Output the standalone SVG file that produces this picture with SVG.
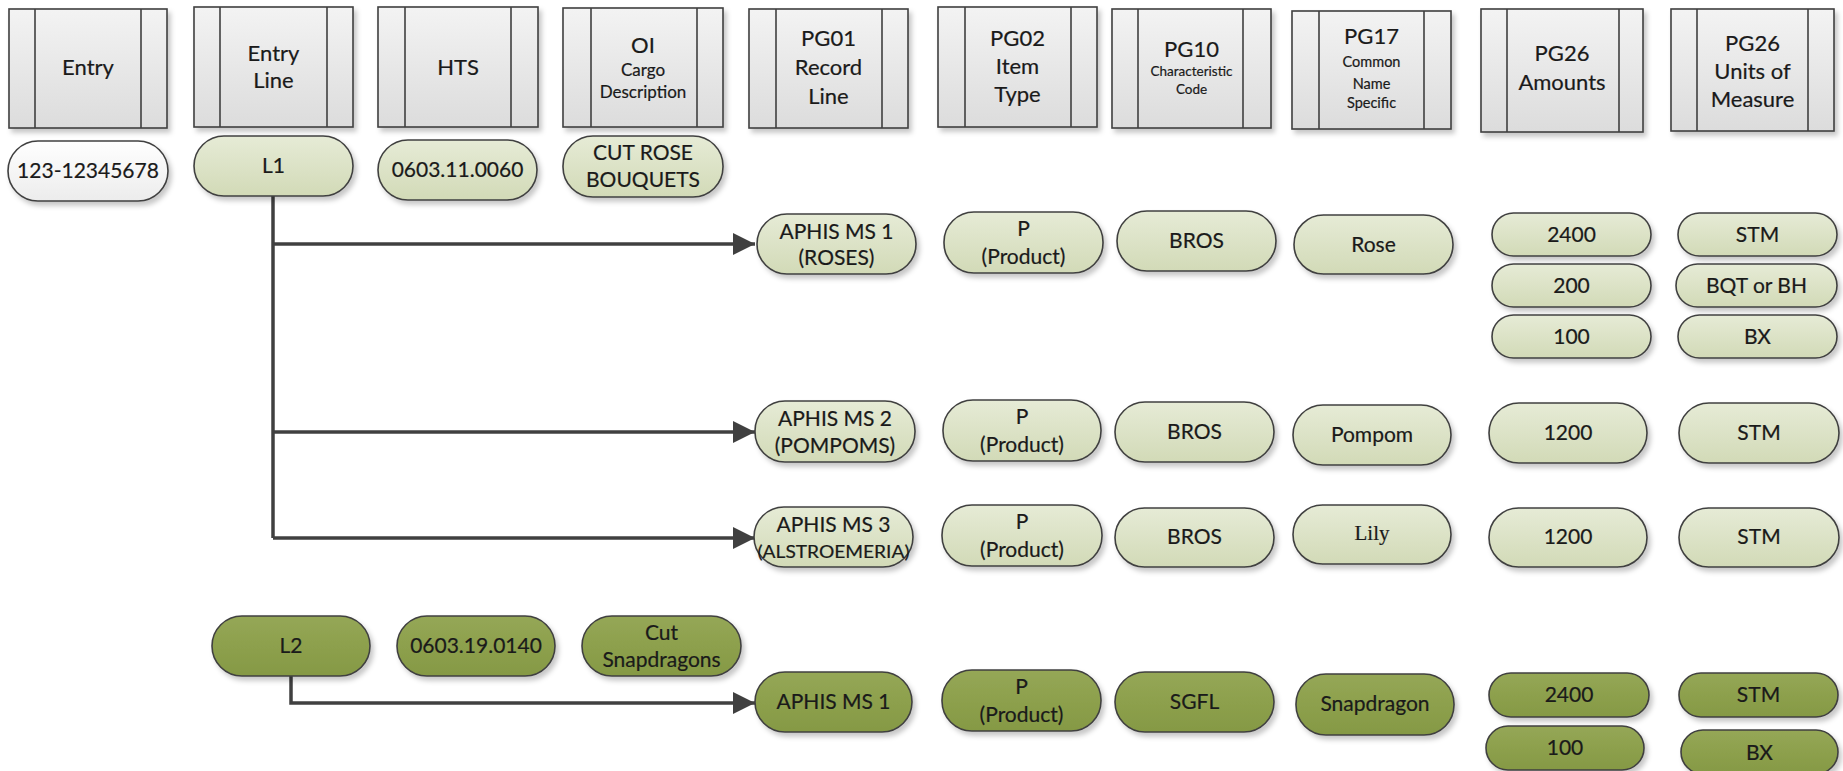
<svg xmlns="http://www.w3.org/2000/svg" width="1843" height="771" viewBox="0 0 1843 771">
<defs>
<linearGradient id="gH" x1="0" y1="0" x2="0" y2="1"><stop offset="0" stop-color="#f3f3f3"/><stop offset="1" stop-color="#dcdcdc"/></linearGradient>
<linearGradient id="gL" x1="0" y1="0" x2="0" y2="1"><stop offset="0" stop-color="#e6ebd6"/><stop offset="1" stop-color="#d2dab7"/></linearGradient>
<linearGradient id="gD" x1="0" y1="0" x2="0" y2="1"><stop offset="0" stop-color="#95a756"/><stop offset="1" stop-color="#859944"/></linearGradient>
<linearGradient id="gW" x1="0" y1="0" x2="0" y2="1"><stop offset="0" stop-color="#ffffff"/><stop offset="1" stop-color="#ececec"/></linearGradient>
<filter id="sh" x="-10%" y="-10%" width="130%" height="140%"><feDropShadow dx="3" dy="4" stdDeviation="2.5" flood-color="#000" flood-opacity="0.22"/></filter>
<marker id="arr" markerUnits="userSpaceOnUse" markerWidth="24" markerHeight="22" refX="22" refY="11" orient="auto"><path d="M0,0 L22,11 L0,22 z" fill="#404040"/></marker>
<style>
.hb{fill:url(#gH);stroke:#404040;stroke-width:1.6;filter:url(#sh)}
.hl{fill:none;stroke:#404040;stroke-width:1.6}
.lg{fill:url(#gL);stroke:#404040;stroke-width:1.6;filter:url(#sh)}
.dg{fill:url(#gD);stroke:#404040;stroke-width:1.6;filter:url(#sh)}
.wp{fill:url(#gW);stroke:#404040;stroke-width:1.6;filter:url(#sh)}
text{font-family:Lato,"Liberation Sans",sans-serif;fill:#1a1a1a;stroke:#1a1a1a;stroke-width:0.2;text-anchor:middle}
.t{font-size:22px}
.p{font-size:21px}
.s{font-size:14.5px}
.so{font-size:17px}
.xs{font-size:13.5px}
.sf{font-family:"Liberation Serif",serif;font-size:21px}
.c{fill:none;stroke:#404040;stroke-width:3.5}
</style>
</defs>

<g id="headers">
<g id="h-entry" transform="translate(9,9)"><rect class="hb" width="158" height="119"/><path class="hl" d="M26 0V119M132 0V119"/><text class="t" x="79" y="66">Entry</text></g>
<g id="h-entryline" transform="translate(194,7)"><rect class="hb" width="159" height="120"/><path class="hl" d="M26 0V120M133 0V120"/><text class="t" x="79.5" y="54">Entry</text><text class="t" x="79.5" y="81">Line</text></g>
<g id="h-hts" transform="translate(378,7)"><rect class="hb" width="160" height="120"/><path class="hl" d="M27 0V120M133 0V120"/><text class="t" x="80" y="68">HTS</text></g>
<g id="h-oi" transform="translate(563,8)"><rect class="hb" width="160" height="119"/><path class="hl" d="M28 0V119M134 0V119"/><text class="t" x="80" y="45">OI</text><text class="so" x="80" y="68">Cargo</text><text class="so" x="80" y="90">Description</text></g>
<g id="h-pg01" transform="translate(749,9)"><rect class="hb" width="159" height="119"/><path class="hl" d="M27 0V119M133 0V119"/><text class="t" x="79.5" y="37">PG01</text><text class="t" x="79.5" y="66">Record</text><text class="t" x="79.5" y="95">Line</text></g>
<g id="h-pg02" transform="translate(938,7)"><rect class="hb" width="159" height="120"/><path class="hl" d="M27 0V120M133 0V120"/><text class="t" x="79.5" y="39">PG02</text><text class="t" x="79.5" y="67">Item</text><text class="t" x="79.5" y="95">Type</text></g>
<g id="h-pg10" transform="translate(1112,9)"><rect class="hb" width="159" height="119"/><path class="hl" d="M26 0V119M131 0V119"/><text class="t" x="79.5" y="48">PG10</text><text class="xs" x="79.5" y="67">Characteristic</text><text class="xs" x="79.5" y="85">Code</text></g>
<g id="h-pg17" transform="translate(1292,11)"><rect class="hb" width="159" height="118"/><path class="hl" d="M27 0V118M132 0V118"/><text class="t" x="79.5" y="33">PG17</text><text class="s" x="79.5" y="56">Common</text><text class="s" x="79.5" y="78">Name</text><text class="s" x="79.5" y="97">Specific</text></g>
<g id="h-pg26a" transform="translate(1481,9)"><rect class="hb" width="162" height="123"/><path class="hl" d="M26 0V123M138 0V123"/><text class="t" x="81" y="52">PG26</text><text class="t" x="81" y="81">Amounts</text></g>
<g id="h-pg26u" transform="translate(1671,9)"><rect class="hb" width="163" height="122"/><path class="hl" d="M26 0V122M137 0V122"/><text class="t" x="81.5" y="42">PG26</text><text class="t" x="81.5" y="70">Units of</text><text class="t" x="81.5" y="98">Measure</text></g>
</g>

<g id="connectors">
<path class="c" d="M273 196V538"/>
<path class="c" d="M273 244H755" marker-end="url(#arr)"/>
<path class="c" d="M273 432H755" marker-end="url(#arr)"/>
<path class="c" d="M273 538H755" marker-end="url(#arr)"/>
<path class="c" d="M291 676V703H755" marker-end="url(#arr)"/>
</g>

<g id="line1">
<g id="n-entry" transform="translate(8,141)"><rect class="wp" width="160" height="60" rx="30"/><text class="p" x="80" y="37">123-12345678</text></g>
<g id="n-l1" transform="translate(194,136)"><rect class="lg" width="159" height="60" rx="30"/><text class="p" x="79.5" y="37">L1</text></g>
<g id="n-hts1" transform="translate(378,140)"><rect class="lg" width="159" height="60" rx="30"/><text class="p" x="79.5" y="37">0603.11.0060</text></g>
<g id="n-oi1" transform="translate(563,136)"><rect class="lg" width="160" height="61" rx="30"/><text class="p" x="80" y="24">CUT ROSE</text><text class="p" x="80" y="51">BOUQUETS</text></g>

<g id="n-a1" transform="translate(757,214)"><rect class="lg" width="159" height="60" rx="30"/><text class="p" x="79.5" y="25">APHIS MS 1</text><text class="p" x="79.5" y="51">(ROSES)</text></g>
<g id="n-p1" transform="translate(944,212)"><rect class="lg" width="159" height="61" rx="30"/><text class="p" x="79.5" y="24">P</text><text class="p" x="79.5" y="52">(Product)</text></g>
<g id="n-b1" transform="translate(1117,211)"><rect class="lg" width="159" height="60" rx="30"/><text class="p" x="79.5" y="37">BROS</text></g>
<g id="n-r1" transform="translate(1294,215)"><rect class="lg" width="159" height="59" rx="29.5"/><text class="p" x="79.5" y="37">Rose</text></g>
<g id="n-amt1a" transform="translate(1492,213)"><rect class="lg" width="159" height="43" rx="21.5"/><text class="p" x="79.5" y="29">2400</text></g>
<g id="n-amt1b" transform="translate(1492,264)"><rect class="lg" width="159" height="43" rx="21.5"/><text class="p" x="79.5" y="29">200</text></g>
<g id="n-amt1c" transform="translate(1492,315)"><rect class="lg" width="159" height="43" rx="21.5"/><text class="p" x="79.5" y="29">100</text></g>
<g id="n-u1a" transform="translate(1678,213)"><rect class="lg" width="159" height="43" rx="21.5"/><text class="p" x="79.5" y="29">STM</text></g>
<g id="n-u1b" transform="translate(1676,264)"><rect class="lg" width="161" height="43" rx="21.5"/><text class="p" x="80.5" y="29">BQT or BH</text></g>
<g id="n-u1c" transform="translate(1678,315)"><rect class="lg" width="159" height="43" rx="21.5"/><text class="p" x="79.5" y="29">BX</text></g>

<g id="n-a2" transform="translate(755,401)"><rect class="lg" width="160" height="61" rx="30"/><text class="p" x="80" y="25">APHIS MS 2</text><text class="p" x="80" y="52">(POMPOMS)</text></g>
<g id="n-p2" transform="translate(943,400)"><rect class="lg" width="158" height="61" rx="30"/><text class="p" x="79" y="24">P</text><text class="p" x="79" y="52">(Product)</text></g>
<g id="n-b2" transform="translate(1115,402)"><rect class="lg" width="159" height="60" rx="30"/><text class="p" x="79.5" y="37">BROS</text></g>
<g id="n-r2" transform="translate(1293,405)"><rect class="lg" width="158" height="60" rx="30"/><text class="p" x="79" y="37">Pompom</text></g>
<g id="n-amt2" transform="translate(1489,403)"><rect class="lg" width="158" height="60" rx="30"/><text class="p" x="79" y="37">1200</text></g>
<g id="n-u2" transform="translate(1679,403)"><rect class="lg" width="160" height="60" rx="30"/><text class="p" x="80" y="37">STM</text></g>

<g id="n-a3" transform="translate(754,507)"><rect class="lg" width="159" height="60" rx="30"/><text class="p" x="79.5" y="25">APHIS MS 3</text><text style="font-size:16.5px" x="79.5" y="51" textLength="152" lengthAdjust="spacingAndGlyphs">(ALSTROEMERIA)</text></g>
<g id="n-p3" transform="translate(942,505)"><rect class="lg" width="160" height="61" rx="30"/><text class="p" x="80" y="24">P</text><text class="p" x="80" y="52">(Product)</text></g>
<g id="n-b3" transform="translate(1115,508)"><rect class="lg" width="159" height="59" rx="29.5"/><text class="p" x="79.5" y="36">BROS</text></g>
<g id="n-r3" transform="translate(1293,505)"><rect class="lg" width="158" height="59" rx="29.5"/><text class="sf" x="79" y="35">Lily</text></g>
<g id="n-amt3" transform="translate(1489,508)"><rect class="lg" width="158" height="59" rx="29.5"/><text class="p" x="79" y="36">1200</text></g>
<g id="n-u3" transform="translate(1679,508)"><rect class="lg" width="160" height="59" rx="29.5"/><text class="p" x="80" y="36">STM</text></g>
</g>

<g id="line2">
<g id="n-l2" transform="translate(212,616)"><rect class="dg" width="158" height="60" rx="30"/><text class="p" x="79" y="37">L2</text></g>
<g id="n-hts2" transform="translate(397,616)"><rect class="dg" width="158" height="60" rx="30"/><text class="p" x="79" y="37">0603.19.0140</text></g>
<g id="n-oi2" transform="translate(582,616)"><rect class="dg" width="159" height="60" rx="30"/><text class="p" x="79.5" y="24">Cut</text><text class="p" x="79.5" y="51">Snapdragons</text></g>
<g id="n-a4" transform="translate(755,672)"><rect class="dg" width="157" height="60" rx="30"/><text class="p" x="78.5" y="37">APHIS MS 1</text></g>
<g id="n-p4" transform="translate(942,670)"><rect class="dg" width="159" height="61" rx="30"/><text class="p" x="79.5" y="24">P</text><text class="p" x="79.5" y="52">(Product)</text></g>
<g id="n-b4" transform="translate(1115,672)"><rect class="dg" width="159" height="60" rx="30"/><text class="p" x="79.5" y="37">SGFL</text></g>
<g id="n-r4" transform="translate(1296,674)"><rect class="dg" width="158" height="61" rx="30"/><text class="p" x="79" y="37">Snapdragon</text></g>
<g id="n-amt4a" transform="translate(1489,673)"><rect class="dg" width="160" height="44" rx="22"/><text class="p" x="80" y="29">2400</text></g>
<g id="n-amt4b" transform="translate(1486,726)"><rect class="dg" width="158" height="44" rx="22"/><text class="p" x="79" y="29">100</text></g>
<g id="n-u4a" transform="translate(1679,673)"><rect class="dg" width="159" height="44" rx="22"/><text class="p" x="79.5" y="29">STM</text></g>
<g id="n-u4b" transform="translate(1681,730)"><rect class="dg" width="157" height="44" rx="22"/><text class="p" x="78.5" y="30">BX</text></g>
</g>
</svg>
